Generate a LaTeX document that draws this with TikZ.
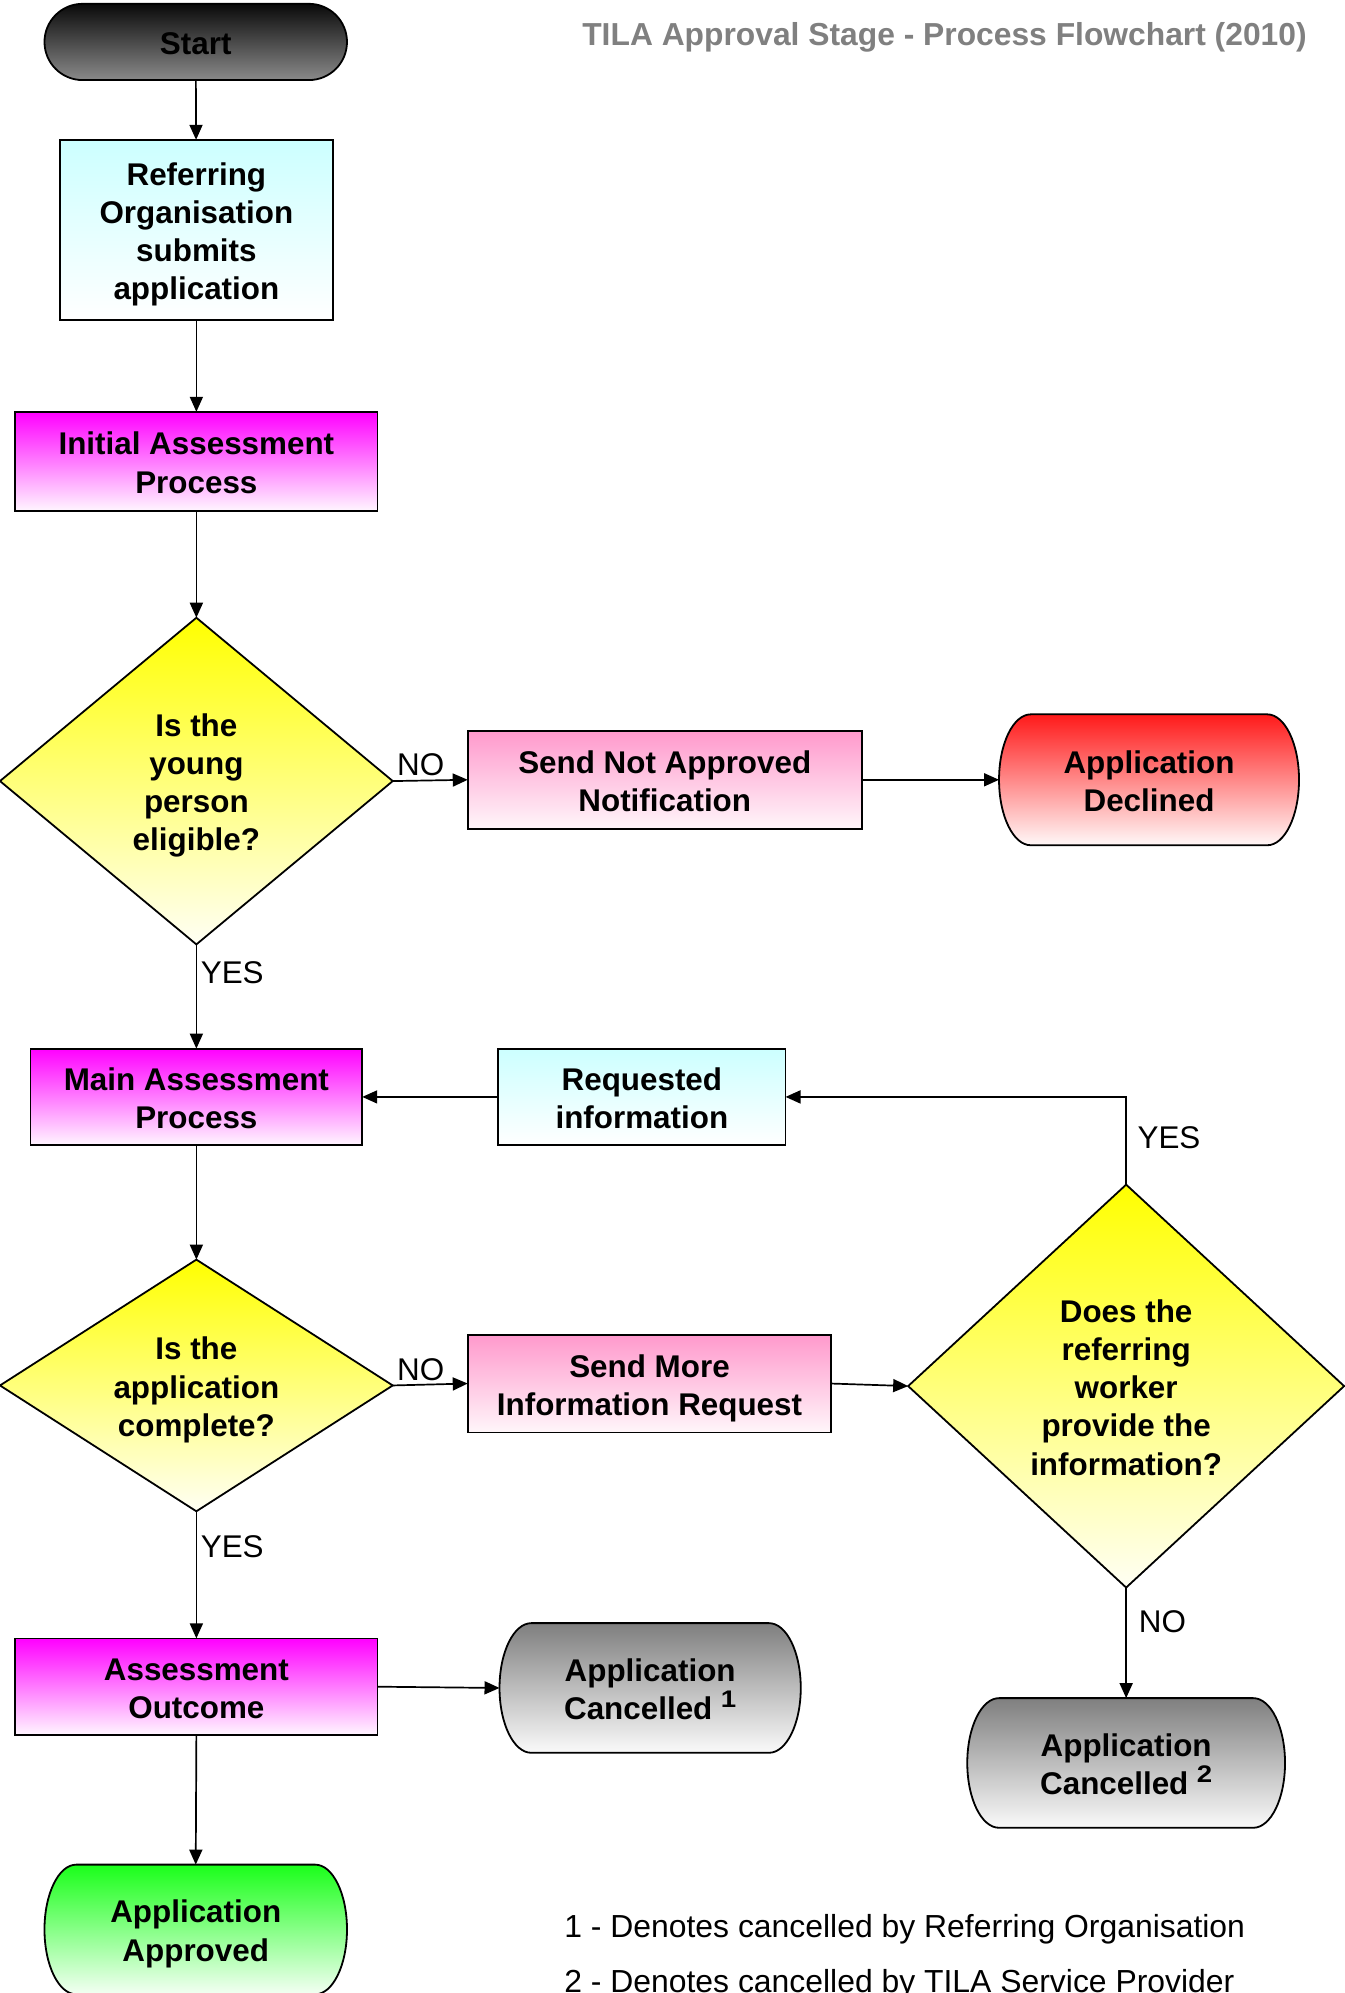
\documentclass[tikz,border=0pt]{standalone}
\usepackage{fontspec}
\usepackage{graphicx}
\setmainfont{Liberation Sans}
\usetikzlibrary{shapes.geometric,arrows.meta}
\newlength\unitpx
\setlength\unitpx{0.6357pt}
\newcommand\fstrut{\rule[-3.3pt]{0pt}{19.2pt}}
\newcommand\ts{\rule{0pt}{15.9pt}}
\newcommand\supnum[1]{\hspace{4.2pt}{\fontsize{12}{12}\selectfont\bfseries\raisebox{6.2pt}{\scalebox{1.15}[1]{#1}}}}
\definecolor{magtop}{HTML}{FF00FF}
\definecolor{magbot}{HTML}{FFF6FF}
\definecolor{pinktop}{HTML}{FF99CC}
\definecolor{pinkbot}{HTML}{FFF6FA}
\definecolor{cyantop}{HTML}{CCFFFF}
\definecolor{cyanbot}{HTML}{FFFFFF}
\definecolor{yeltop}{HTML}{FFFF00}
\definecolor{yelbot}{HTML}{FFFFF4}
\definecolor{redtop}{HTML}{FF1A1A}
\definecolor{redbot}{HTML}{FFF8F8}
\definecolor{greentop}{HTML}{1AFF1A}
\definecolor{greenbot}{HTML}{F4FFF4}
\definecolor{graytop}{HTML}{7F7F7F}
\definecolor{graybot}{HTML}{FAFAFA}
\definecolor{darktop}{HTML}{0A0A0A}
\definecolor{darkbot}{HTML}{8A8A8A}
\definecolor{titlegray}{HTML}{808080}
\newcommand\termshape[6]{%
  \path[termline,#6]
   ({#1-#3/2+#5},{#2-#4/2}) -- ({#1+#3/2-#5},{#2-#4/2})
   .. controls ({#1+#3/2-#5+0.5523*#5},{#2-#4/2}) and ({#1+#3/2},{#2-0.5523*#4/2}) .. ({#1+#3/2},{#2})
   .. controls ({#1+#3/2},{#2+0.5523*#4/2}) and ({#1+#3/2-#5+0.5523*#5},{#2+#4/2}) .. ({#1+#3/2-#5},{#2+#4/2})
   -- ({#1-#3/2+#5},{#2+#4/2})
   .. controls ({#1-#3/2+#5-0.5523*#5},{#2+#4/2}) and ({#1-#3/2},{#2+0.5523*#4/2}) .. ({#1-#3/2},{#2})
   .. controls ({#1-#3/2},{#2-0.5523*#4/2}) and ({#1-#3/2+#5-0.5523*#5},{#2-#4/2}) .. ({#1-#3/2+#5},{#2-#4/2})
   -- cycle;
}
\tikzset{
  boxtext/.style={font=\fontsize{15.7}{19.1}\selectfont\bfseries, align=center, inner sep=0pt, outer sep=0pt,
    execute at begin node=\fstrut, execute at end node=\fstrut},
  boxn/.style={boxtext, draw=black, line width=0.9pt, rectangle},
  dia/.style={boxtext, draw=black, line width=0.9pt, diamond, top color=yeltop, bottom color=yelbot},
  termline/.style={draw=black, line width=0.9pt},
  termtext/.style={boxtext, rectangle},
  magfill/.style={top color=magtop, bottom color=magbot},
  pinkfill/.style={top color=pinktop, bottom color=pinkbot},
  cyanfill/.style={top color=cyantop, bottom color=cyanbot},
  arr/.style={draw=black, line width=0.85pt, -{Triangle[length=7.5pt,width=6.5pt]}},
  lbl/.style={font=\fontsize{15.7}{19.1}\selectfont, inner sep=0pt, outer sep=0pt},
}
\begin{document}
\begin{tikzpicture}[x=0.6357pt, y=-0.6357pt]
\fill[white] (0,0) rectangle (1058,1568);
\useasboundingbox (0,0) rectangle (1058,1568);

% title
\node[lbl, font=\fontsize{15.9}{19.1}\selectfont\bfseries, text=titlegray, anchor=east] (title) at (1028,29) {TILA Approval Stage - Process Flowchart (2010)};

% terminators
\termshape{154}{33}{238}{60}{30}{top color=darktop, bottom color=darkbot}
\node[termtext, minimum width=238*\unitpx, minimum height=60*\unitpx] (start) at (154,33) {Start};

\termshape{904}{613.5}{236}{103}{25}{top color=redtop, bottom color=redbot}
\node[termtext, minimum width=236*\unitpx, minimum height=103*\unitpx] (declined) at (904,613.5) {\ts Application\\Declined};

\termshape{511.5}{1328}{237}{102}{25}{top color=graytop, bottom color=graybot}
\node[termtext, minimum width=237*\unitpx, minimum height=102*\unitpx] (canc1) at (511.5,1328) {\ts Application\\Cancelled\supnum{1}};

\termshape{886}{1387}{250}{102}{25}{top color=graytop, bottom color=graybot}
\node[termtext, minimum width=250*\unitpx, minimum height=102*\unitpx] (canc2) at (886,1387) {\ts Application\\Cancelled\supnum{2}};

\termshape{154}{1518}{238}{102}{25}{top color=greentop, bottom color=greenbot}
\node[termtext, minimum width=238*\unitpx, minimum height=102*\unitpx] (approved) at (154,1518) {\ts Application\\Approved};

% boxes
\node[boxn, cyanfill, minimum width=215*\unitpx, minimum height=142*\unitpx] (refer) at (154.5,181) {\ts Referring\\Organisation\\submits\\application};
\node[boxn, magfill, minimum width=285*\unitpx, minimum height=78*\unitpx] (initial) at (154.5,363) {\ts Initial Assessment\\Process};
\node[boxn, pinkfill, minimum width=310*\unitpx, minimum height=77*\unitpx] (sna) at (523,613.5) {\ts Send Not Approved\\Notification};
\node[boxn, magfill, minimum width=261*\unitpx, minimum height=76*\unitpx] (main) at (154.5,863) {\ts Main Assessment\\Process};
\node[boxn, cyanfill, minimum width=226*\unitpx, minimum height=76*\unitpx] (req) at (505,863) {\ts Requested\\information};
\node[boxn, pinkfill, minimum width=286*\unitpx, minimum height=77*\unitpx] (smir) at (511,1088.5) {\ts Send More\\Information Request};
\node[boxn, magfill, minimum width=285*\unitpx, minimum height=76*\unitpx] (ao) at (154.5,1327) {\ts Assessment\\Outcome};

% diamonds
\node[dia, aspect=1.2023, minimum width=309*\unitpx, minimum height=257*\unitpx] (d1) at (154.5,614.5) {\ts Is the\\young\\person\\eligible?};
\node[dia, aspect=1.5606, minimum width=309*\unitpx, minimum height=198*\unitpx] (d3) at (154.5,1090) {\ts Is the\\application\\complete?};
\node[dia, aspect=1.082, minimum width=343*\unitpx, minimum height=317*\unitpx] (d2) at (886,1090.5) {\ts Does the\\referring\\worker\\provide the\\information?};

% connectors
\draw[arr] (start) -- (refer);
\draw[arr] (refer) -- (initial);
\draw[arr] (initial) -- (d1);
\draw[arr] (d1.east) -- (sna.west);
\draw[arr] (sna.east) -- (declined.west);
\draw[arr] (d1.south) -- (main.north);
\draw[arr] (req.west) -- (main.east);
\draw[arr] (d2.north) |- (req.east);
\draw[arr] (main.south) -- (d3.north);
\draw[arr] (d3.east) -- (smir.west);
\draw[arr] (smir.east) -- (d2.west);
\draw[arr] (d3.south) -- (ao.north);
\draw[arr] (ao.east) -- (canc1.west);
\draw[arr] (d2.south) -- (canc2.north);
\draw[arr] (ao.south) -- (approved.north);

% labels
\node[lbl, anchor=south] (no1) at (331,610) {NO};
\node[lbl, anchor=west] (yes1) at (158,765) {YES};
\node[lbl, anchor=west] (yes2) at (895,895) {YES};
\node[lbl, anchor=south] (no2) at (331,1086) {NO};
\node[lbl, anchor=west] (yes3) at (158,1217) {YES};
\node[lbl, anchor=west] (no3) at (896,1276) {NO};

% footnotes
\node[lbl, font=\fontsize{15.95}{19.1}\selectfont, anchor=west] (fn1) at (444,1518) {1 - Denotes cancelled by Referring Organisation};
\node[lbl, font=\fontsize{15.95}{19.1}\selectfont, anchor=west] (fn2) at (444,1561) {2 - Denotes cancelled by TILA Service Provider};
\end{tikzpicture}
\end{document}
